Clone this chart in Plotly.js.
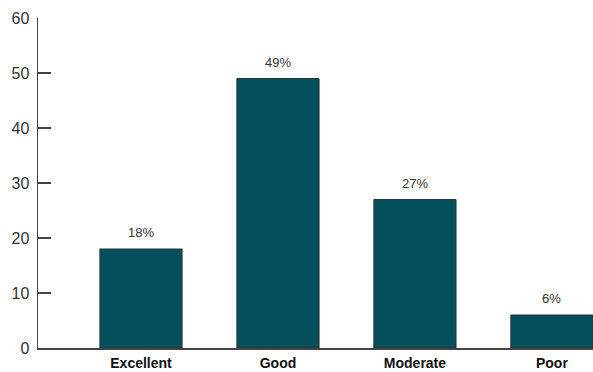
<!DOCTYPE html>
<html><head><meta charset="utf-8">
<script src="https://cdn.plot.ly/plotly-3.0.1.min.js"></script>
<style>html,body{margin:0;padding:0;background:#fff;}#chart{width:593px;height:372px;}</style>
</head><body><div id="chart"></div>
<script>
var categories = ["Excellent", "Good", "Moderate", "Poor"];
var values = [18, 49, 27, 6];
var valueLabels = ["18%", "49%", "27%", "6%"];
var yTicks = [0, 10, 20, 30, 40, 50, 60];

var trace = {
  type: "bar", x: categories, y: values, width: 0.6,
  marker: {color: "#034f5b", line: {color: "#2a3438", width: 1}},
  hoverinfo: "none"
};
var annotations = categories.map(function(c, i){
  return {x: c, y: values[i], text: valueLabels[i], showarrow: false,
    yanchor: "bottom", yshift: 7, font: {family: "Liberation Sans, Arial, sans-serif", size: 13, color: "#333"}};
});
var layout = {
  width: 593, height: 372,
  margin: {l: 38, r: 0, t: 18, b: 24},
  paper_bgcolor: "#fff", plot_bgcolor: "#fff",
  showlegend: false,
  font: {family: "Liberation Sans, Arial, sans-serif", color: "#333"},
  xaxis: {type: "category", range: [-0.752, 3.3], showgrid: false, zeroline: false,
    showline: true, linecolor: "#444", linewidth: 1.5, ticks: "",
    tickfont: {size: 14, color: "#111", family: "Liberation Sans, Arial, sans-serif", weight: "bold"},
    ticklabelstandoff: 2},
  yaxis: {range: [0, 60], tickvals: yTicks, showgrid: false, zeroline: false,
    showline: true, linecolor: "#444", linewidth: 1.5, ticks: "inside", ticklen: 13, tickcolor: "#444", tickwidth: 1.5,
    tickfont: {size: 16, color: "#333"}, ticklabelstandoff: 4},
  annotations: annotations
};
Plotly.newPlot("chart", [trace], layout, {displayModeBar: false, staticPlot: true});
</script></body></html>
